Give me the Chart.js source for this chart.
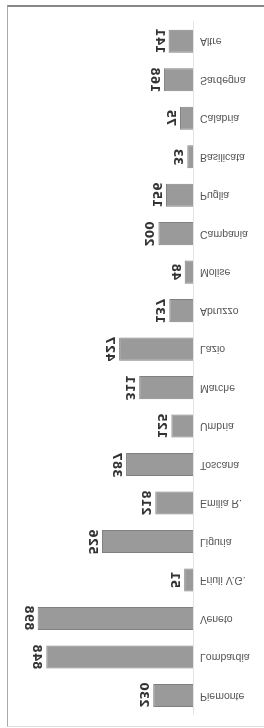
<!DOCTYPE html>
<html>
<head>
<meta charset="utf-8">
<script src="https://cdn.jsdelivr.net/npm/chart.js@4/dist/chart.umd.min.js"></script>
<style>
  html, body { margin: 0; padding: 0; background: #fff; }
  #wrap { position: relative; width: 264px; height: 728px; overflow: hidden; }
  #frame { position: absolute; left: 7px; top: 5px; width: 270px; height: 719px;
           border-top: 2px solid #888; border-left: 1px solid #aaa; border-bottom: 1px solid #ddd; }
  #flip { position: absolute; left: 0; top: 0; width: 264px; height: 728px; transform: scaleY(-1); }
  #myChart { position: absolute; left: 0; top: 0; }
  .val { position: absolute; font: bold 12px "DejaVu Sans"; color: #333; white-space: nowrap;
         transform: translate(-50%, -50%) rotate(90deg); line-height: 12px; }
</style>
</head>
<body>
<div id="wrap">
  <div id="frame"></div>
  <div id="flip">
    <canvas id="myChart" width="264" height="728"></canvas>
  </div>
</div>
<script>
var regions = ['Piemonte', 'Lombardia', 'Veneto', 'Friuli V.G.', 'Liguria', 'Emilia R.', 'Toscana', 'Umbria', 'Marche', 'Lazio', 'Abruzzo', 'Molise', 'Campania', 'Puglia', 'Basilicata', 'Calabria', 'Sardegna', 'Altre'];
var values = [230, 848, 898, 51, 526, 218, 387, 125, 311, 427, 137, 48, 200, 156, 33, 75, 168, 141];

window.onload = function () {

    var ctx = document.getElementById('myChart').getContext('2d');

    var myChart = new Chart(ctx, {
        type: 'bar',
        data: {
            labels: regions,
            datasets: [{
                data: values,
                backgroundColor: '#9a9a9a',
                borderColor: '#808080',
                borderWidth: 1,
                categoryPercentage: 1,
                barPercentage: 0.6
            }]
        },
        options: {
            indexAxis: 'y',
            responsive: false,
            animation: false,
            layout: { padding: { left: 20, right: 0, top: 8, bottom: 22 } },
            plugins: {
                legend: { display: false },
                tooltip: { enabled: false }
            },
            scales: {
                x: {
                    display: false,
                    reverse: true,
                    min: 0,
                    max: 1000
                },
                y: {
                    position: 'right',
                    grid: { display: false, drawTicks: false },
                    border: { display: true, color: '#e4e4e4' },
                    ticks: {
                        padding: 7,
                        color: '#555',
                        font: { family: 'Liberation Sans', size: 10.5 }
                    },
                    afterFit: function (scale) { scale.width = 71; }
                }
            }
        }
    });

    // numbers next to each bar, turned sideways like the scan
    var flip = document.getElementById('flip');
    myChart.getDatasetMeta(0).data.forEach(function (bar, i) {
        var el = document.createElement('div');
        el.className = 'val';
        el.textContent = values[i];
        el.style.left = (bar.x - 9) + 'px';
        el.style.top = bar.y + 'px';
        flip.appendChild(el);
    });
};
</script>
</body>
</html>
